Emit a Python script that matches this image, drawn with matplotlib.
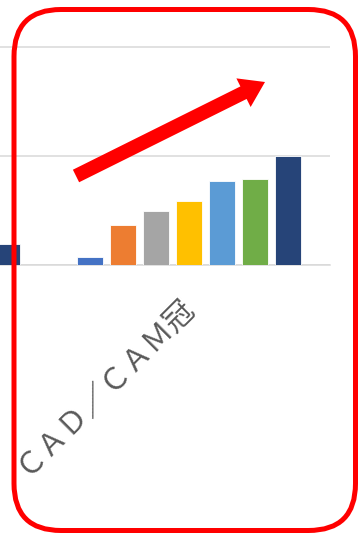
import numpy as np
import matplotlib
matplotlib.use("Agg")
import matplotlib.pyplot as plt
from matplotlib.patches import FancyBboxPatch, FancyArrow

plt.rcParams['font.family'] = ['Noto Sans CJK JP', 'DejaVu Sans']

# Categories on the horizontal axis (the first one sits mostly outside the view)
categories = ["", "ＣＡＤ／ＣＡＭ冠"]

# Seven series, one value per category
series_1 = [np.nan, 0.8]
series_2 = [np.nan, 3.7]
series_3 = [np.nan, 5.0]
series_4 = [np.nan, 5.9]
series_5 = [np.nan, 7.7]
series_6 = [np.nan, 7.9]
series_7 = [2.0, 10.0]

series = [series_1, series_2, series_3, series_4, series_5, series_6, series_7]
colors = ["#4472C4", "#ED7D31", "#A5A5A5", "#FFC000", "#5B9BD5", "#70AD47", "#264478"]

W, H, DPI = 360, 534, 100
fig = plt.figure(figsize=(W / DPI, H / DPI), dpi=DPI)
fig.patch.set_facecolor("white")

# plot area in pixel terms
left_px, right_px = 0, 330
top_px, base_px = 30, 265.5
grid_top_px = 46.7
ax = fig.add_axes([left_px / W, 1 - base_px / H,
                   (right_px - left_px) / W, (base_px - top_px) / H])

x = np.arange(len(categories))
step = 33 / 281
width = 26 / 281
for i, (vals, c) in enumerate(zip(series, colors)):
    ax.bar(x + (i - 3) * step, vals, width=width, color=c,
           edgecolor="white", linewidth=0.6, zorder=3)

ax.set_xticks(x)
ax.set_xticklabels(categories, rotation=45, ha="right", va="center",
                   rotation_mode="anchor", color="#595959", fontsize=21.5)
ax.tick_params(axis="x", length=0, pad=26)
ax.set_xlim(1 - 189 / 281, 1.5)

ymax = 20 * (base_px - top_px) / (base_px - grid_top_px)
ax.set_yticks([0, 10, 20])
ax.set_ylim(0, ymax)
ax.yaxis.grid(True, color="#d9d9d9", linewidth=1.1, zorder=0)
ax.tick_params(axis="y", left=False, labelleft=False)
for s in ["top", "right", "left"]:
    ax.spines[s].set_visible(False)
ax.spines["bottom"].set_color("#d9d9d9")
ax.spines["bottom"].set_linewidth(1.1)
ax.set_facecolor("none")

# overlay in pixel coordinates for the highlight frame and arrow
ov = fig.add_axes([0, 0, 1, 1])
ov.set_xlim(0, W)
ov.set_ylim(H, 0)
ov.axis("off")
ov.patch.set_alpha(0)

r = 47
frame = FancyBboxPatch((14 + r, 9.5 + r), 355.5 - 14 - 2 * r, 530.5 - 9.5 - 2 * r,
                       boxstyle=f"round,pad={r}", fill=False,
                       edgecolor="#FF0000", linewidth=3.6)
ov.add_patch(frame)

x0, y0 = 76, 176
x1, y1 = 265, 82
ov.add_patch(FancyArrow(x0, y0, x1 - x0, y1 - y0, width=14, head_width=32,
                        head_length=24, length_includes_head=True,
                        color="#FF0000", linewidth=0))

fig.savefig("out.png", dpi=DPI, facecolor="white")
